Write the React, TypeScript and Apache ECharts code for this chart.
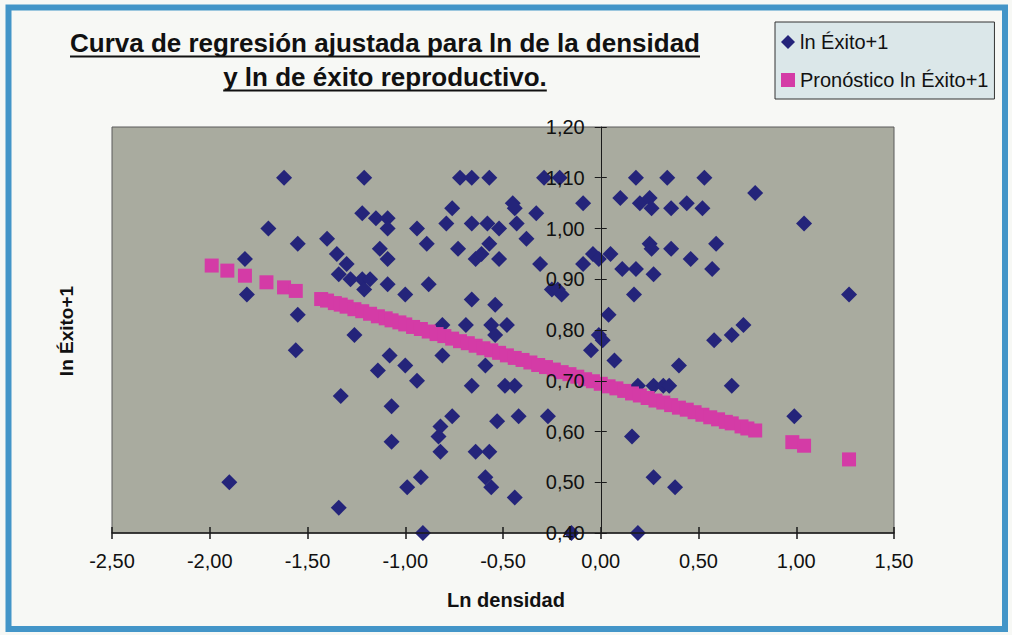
import { useEffect, useRef } from 'react';
import * as echarts from 'echarts';

// Observed values: ln of density (x) against ln of reproductive success + 1 (y)
const observed: [number, number][] = [
  [-1.90, 0.50], [-1.82, 0.94], [-1.81, 0.87], [-1.70, 1.00], [-1.62, 1.10],
  [-1.56, 0.76], [-1.55, 0.97], [-1.55, 0.83], [-1.40, 0.98], [-1.35, 0.95],
  [-1.34, 0.45], [-1.34, 0.91], [-1.33, 0.67], [-1.30, 0.93], [-1.28, 0.90],
  [-1.26, 0.79], [-1.22, 1.03], [-1.22, 0.90], [-1.21, 1.10], [-1.21, 0.88],
  [-1.18, 0.90], [-1.15, 1.02], [-1.14, 0.72], [-1.13, 0.96], [-1.09, 1.02],
  [-1.09, 1.00], [-1.09, 0.94], [-1.09, 0.89], [-1.08, 0.75], [-1.07, 0.65],
  [-1.07, 0.58], [-1.00, 0.87], [-1.00, 0.73], [-0.99, 0.49], [-0.94, 1.00],
  [-0.94, 0.70], [-0.92, 0.51], [-0.91, 0.40], [-0.89, 0.97], [-0.88, 0.89],
  [-0.83, 0.59], [-0.82, 0.61], [-0.82, 0.56], [-0.81, 0.81], [-0.81, 0.75],
  [-0.79, 1.01], [-0.76, 1.04], [-0.76, 0.63], [-0.73, 0.96], [-0.72, 1.10],
  [-0.69, 0.81], [-0.66, 1.10], [-0.66, 1.01], [-0.66, 0.86], [-0.66, 0.69],
  [-0.64, 0.94], [-0.64, 0.56], [-0.61, 0.95], [-0.59, 0.73], [-0.59, 0.51],
  [-0.58, 1.01], [-0.57, 1.10], [-0.57, 0.97], [-0.57, 0.56], [-0.56, 0.81],
  [-0.56, 0.49], [-0.54, 0.85], [-0.54, 0.79], [-0.53, 0.62], [-0.52, 1.00],
  [-0.52, 0.94], [-0.49, 0.69], [-0.48, 0.81], [-0.45, 1.05], [-0.44, 1.04],
  [-0.44, 0.69], [-0.44, 0.47], [-0.43, 1.01], [-0.42, 0.63], [-0.38, 0.98],
  [-0.33, 1.03], [-0.31, 0.93], [-0.29, 1.10], [-0.27, 0.63], [-0.25, 0.88],
  [-0.22, 0.88], [-0.20, 0.87], [-0.21, 1.10], [-0.15, 0.40], [-0.09, 1.05],
  [-0.09, 0.93], [-0.05, 0.76], [-0.04, 0.95], [-0.01, 0.94], [-0.01, 0.79],
  [0.01, 0.78], [0.04, 0.83], [0.05, 0.95], [0.07, 0.74], [0.10, 1.06],
  [0.11, 0.92], [0.16, 0.59], [0.17, 0.87], [0.18, 1.10], [0.18, 0.92],
  [0.19, 0.69], [0.19, 0.40], [0.20, 1.05], [0.25, 1.06], [0.26, 1.04],
  [0.25, 0.97], [0.26, 0.96], [0.27, 0.91], [0.27, 0.69], [0.27, 0.51],
  [0.32, 0.69], [0.34, 1.10], [0.35, 0.69], [0.36, 1.04], [0.36, 0.96],
  [0.38, 0.49], [0.40, 0.73], [0.44, 1.05], [0.46, 0.94], [0.52, 1.04],
  [0.53, 1.10], [0.57, 0.92], [0.58, 0.78], [0.59, 0.97], [0.67, 0.79],
  [0.67, 0.69], [0.73, 0.81], [0.79, 1.07], [0.99, 0.63], [1.04, 1.01],
  [1.27, 0.87],
];

// Fitted (forecast) values along the regression line
const forecast: [number, number][] = [
  [-1.99, 0.927], [-1.91, 0.917], [-1.82, 0.907], [-1.71, 0.894], [-1.62, 0.884],
  [-1.56, 0.877], [-1.43, 0.861], [-1.40, 0.858], [-1.36, 0.853], [-1.33, 0.850],
  [-1.30, 0.846], [-1.26, 0.841], [-1.22, 0.837], [-1.18, 0.832], [-1.14, 0.827],
  [-1.10, 0.823], [-1.07, 0.819], [-1.03, 0.815], [-1.00, 0.811], [-0.96, 0.806],
  [-0.92, 0.802], [-0.88, 0.797], [-0.84, 0.792], [-0.80, 0.788], [-0.76, 0.783],
  [-0.72, 0.778], [-0.68, 0.774], [-0.64, 0.769], [-0.60, 0.764], [-0.56, 0.760],
  [-0.52, 0.755], [-0.48, 0.750], [-0.44, 0.745], [-0.40, 0.741], [-0.36, 0.736],
  [-0.32, 0.731], [-0.28, 0.727], [-0.24, 0.722], [-0.20, 0.717], [-0.16, 0.713],
  [-0.12, 0.708], [-0.08, 0.703], [-0.04, 0.699], [0.00, 0.694], [0.04, 0.689],
  [0.08, 0.685], [0.12, 0.680], [0.16, 0.675], [0.20, 0.671], [0.24, 0.666],
  [0.28, 0.661], [0.32, 0.657], [0.36, 0.652], [0.40, 0.647], [0.44, 0.643],
  [0.48, 0.638], [0.52, 0.633], [0.56, 0.628], [0.60, 0.624], [0.64, 0.619],
  [0.67, 0.616], [0.72, 0.610], [0.75, 0.606], [0.79, 0.602], [0.98, 0.579],
  [1.04, 0.572], [1.27, 0.545],
];

const seriesNames = ['ln Éxito+1', 'Pronóstico ln Éxito+1'];
const titleLines = [
  'Curva de regresión ajustada para ln de la densidad',
  'y ln de éxito reproductivo.',
];
const xAxisName = 'Ln densidad';
const yAxisName = 'ln Éxito+1';

const X_MIN = -2.5;
const X_MAX = 1.5;
const Y_MIN = 0.4;
const Y_MAX = 1.2;

const FONT = '"Liberation Sans", Arial, Helvetica, sans-serif';
const BLUE = '#24247a';
const PINK = '#d43ba6';

const fmt = (v: number) => v.toFixed(2).replace('.', ',');

function measure(text: string, font: string): number {
  const ctx = document.createElement('canvas').getContext('2d');
  if (!ctx) return text.length * 13;
  ctx.font = font;
  return ctx.measureText(text).width;
}

export default function App() {
  const ref = useRef<HTMLDivElement>(null);

  useEffect(() => {
    if (!ref.current) return;
    const chart = echarts.init(ref.current, undefined, { renderer: 'svg' });

    const gridLeft = 112;
    const gridRight = 118;
    const plotWidth = 1012 - gridLeft - gridRight;
    // the vertical axis crosses the horizontal one at x = 0
    const yAxisOffset = -plotWidth * ((0 - X_MIN) / (X_MAX - X_MIN));

    const titleFont = `bold 26px ${FONT}`;
    const titleCenter = 385;
    const titleBaselines = [52, 86];
    const titleGraphics: any[] = [];
    titleLines.forEach((line, i) => {
      const w = measure(line, titleFont);
      titleGraphics.push({
        type: 'text',
        x: titleCenter,
        y: titleBaselines[i] - 9,
        style: {
          text: line,
          font: titleFont,
          fill: '#111',
          align: 'center',
          verticalAlign: 'middle',
        },
        z: 20,
      });
      titleGraphics.push({
        type: 'line',
        shape: {
          x1: titleCenter - w / 2,
          y1: titleBaselines[i] + 4.5,
          x2: titleCenter + w / 2,
          y2: titleBaselines[i] + 4.5,
        },
        style: { stroke: '#111', lineWidth: 2.2 },
        z: 20,
      });
    });

    const axisCommon = {
      type: 'value' as const,
      splitLine: { show: false },
    };

    chart.setOption({
      animation: false,
      backgroundColor: '#f7f8f5',
      grid: {
        left: gridLeft,
        right: gridRight,
        top: 127,
        bottom: 102,
        show: true,
        backgroundColor: '#a9ab9f',
        borderColor: '#5a5a5a',
        borderWidth: 1,
      },
      legend: {
        left: 775,
        top: 22,
        orient: 'vertical',
        padding: [10, 6, 9, 6],
        itemGap: 18,
        itemWidth: 14,
        itemHeight: 14,
        backgroundColor: '#dbe7e9',
        borderColor: '#333',
        borderWidth: 1,
        textStyle: { fontSize: 20, color: '#111', fontFamily: FONT },
        data: [
          { name: seriesNames[0], icon: 'diamond' },
          { name: seriesNames[1], icon: 'rect' },
        ],
      },
      xAxis: [
        {
          ...axisCommon,
          min: X_MIN,
          max: X_MAX,
          interval: 0.5,
          position: 'bottom',
          axisLine: { onZero: false, lineStyle: { color: '#1a1a1a', width: 1.5 } },
          axisTick: { show: true, length: 6, lineStyle: { color: '#1a1a1a', width: 1.5 } },
          axisLabel: {
            formatter: fmt,
            fontSize: 20,
            color: '#111',
            fontFamily: FONT,
            margin: 18,
          },
          z: 5,
        },
        {
          ...axisCommon,
          min: X_MIN,
          max: X_MAX,
          interval: 0.5,
          position: 'bottom',
          axisLine: { show: false, onZero: false },
          axisTick: { show: true, inside: true, length: 6, lineStyle: { color: '#1a1a1a', width: 1.5 } },
          axisLabel: { show: false },
          z: 5,
        },
      ],
      yAxis: [
        {
          ...axisCommon,
          min: Y_MIN,
          max: Y_MAX,
          interval: 0.1,
          position: 'left',
          offset: yAxisOffset,
          axisLine: { show: true, onZero: false, lineStyle: { color: '#1a1a1a', width: 1 } },
          axisTick: { show: true, length: 6, lineStyle: { color: '#1a1a1a', width: 1 } },
          axisLabel: {
            formatter: fmt,
            fontSize: 20,
            color: '#111',
            fontFamily: FONT,
            margin: 16,
          },
          z: 10,
        },
        {
          ...axisCommon,
          min: Y_MIN,
          max: Y_MAX,
          interval: 0.1,
          position: 'left',
          offset: yAxisOffset,
          axisLine: { show: false, onZero: false },
          axisTick: { show: true, inside: true, length: 6, lineStyle: { color: '#1a1a1a', width: 1 } },
          axisLabel: { show: false },
          z: 10,
        },
      ],
      series: [
        {
          name: seriesNames[0],
          type: 'scatter',
          symbol: 'diamond',
          symbolSize: 16,
          itemStyle: { color: BLUE, opacity: 1 },
          data: observed,
          z: 2,
        },
        {
          name: seriesNames[1],
          type: 'scatter',
          symbol: 'rect',
          symbolSize: 14,
          itemStyle: { color: PINK, opacity: 1 },
          data: forecast,
          z: 3,
        },
      ],
      graphic: [
        {
          type: 'rect',
          shape: { x: 8.5, y: 7.5, width: 996.5, height: 621.5 },
          style: { fill: 'none', stroke: '#4395c8', lineWidth: 6 },
          z: 30,
        },
        ...titleGraphics,
        {
          type: 'text',
          x: 506,
          y: 600,
          style: {
            text: xAxisName,
            font: `bold 20px ${FONT}`,
            fill: '#111',
            align: 'center',
            verticalAlign: 'middle',
          },
        },
        {
          type: 'text',
          x: 66,
          y: 331,
          rotation: Math.PI / 2,
          style: {
            text: yAxisName,
            font: `bold 19px ${FONT}`,
            fill: '#111',
            align: 'center',
            verticalAlign: 'middle',
          },
        },
      ],
    });

    return () => chart.dispose();
  }, []);

  return (
    <div
      ref={ref}
      style={{ position: 'fixed', left: 0, top: 0, width: 1012, height: 635 }}
    />
  );
}
